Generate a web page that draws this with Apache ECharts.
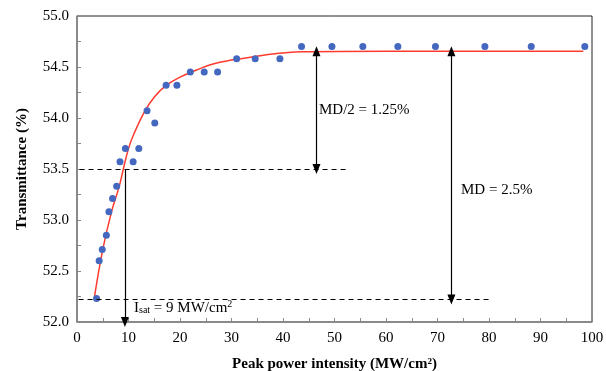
<!DOCTYPE html>
<html><head><meta charset="utf-8">
<script src="https://cdn.jsdelivr.net/npm/echarts@6/dist/echarts.min.js"></script>
<style>html,body{margin:0;padding:0;background:#fff}#c{width:606px;height:371px}</style>
</head><body><div id="c"></div>
<script>
// Measured data points (x: MW/cm², y: transmittance %)
const pointX = [3.8, 4.3, 4.9, 5.7, 6.2, 6.9, 7.7, 8.35, 9.4, 10.9, 12.0, 13.6, 15.1, 17.3, 19.4, 22.0, 24.7, 27.3, 31.0, 34.6, 39.4, 43.6, 49.5, 55.5, 62.3, 69.6, 79.2, 88.2, 98.6];
const pointY = [52.23, 52.60, 52.71, 52.85, 53.08, 53.21, 53.33, 53.57, 53.70, 53.57, 53.70, 54.07, 53.95, 54.32, 54.32, 54.45, 54.45, 54.45, 54.58, 54.58, 54.58, 54.70, 54.70, 54.70, 54.70, 54.70, 54.70, 54.70, 54.70];
// Fit curve
const fitX = [3.4, 5.0, 6.7, 8.2, 9.0, 10.0, 11.1, 13.2, 15.1, 17.3, 20.0, 23.2, 26.4, 30.3, 34.2, 38.4, 43.5, 60, 80, 98.3];
const fitY = [52.25, 52.71, 53.08, 53.33, 53.50, 53.70, 53.85, 54.07, 54.21, 54.32, 54.40, 54.47, 54.53, 54.57, 54.60, 54.63, 54.65, 54.655, 54.655, 54.655];
// Annotation values
const halfLevel = 53.5, halfLineEnd = 52.6;
const baseLevel = 52.22, baseLineEnd = 80;
const satLevel = 54.655;
const isatX = 9.3;
const mdHalfX = 46.5, mdX = 72.7;
const xTicks = [0, 10, 20, 30, 40, 50, 60, 70, 80, 90, 100];
const yTicks = ['52.0', '52.5', '53.0', '53.5', '54.0', '54.5', '55.0'];

const font = 'Liberation Serif';
const chart = echarts.init(document.getElementById('c'), null, {renderer: 'canvas'});
const dashStyle = {color: '#000', width: 1, type: [5, 4]};
const arrowStyle = {color: '#000', width: 1.2, type: 'solid'};
chart.setOption({
  animation: false,
  grid: {left: 77, right: 14, top: 16, bottom: 49, show: true, borderColor: '#222', borderWidth: 1,
         containLabel: false, outerBoundsMode: 'none'},
  xAxis: {
    type: 'value', min: 0, max: 100, interval: 5,
    name: 'Peak power intensity (MW/cm²)', nameLocation: 'middle', nameGap: 35,
    nameTextStyle: {fontFamily: font, fontWeight: 'bold', fontSize: 15, color: '#000'},
    axisLine: {show: true, lineStyle: {color: '#888', width: 1.5}},
    axisTick: {show: true, inside: true, length: 4, lineStyle: {color: '#888'}},
    axisLabel: {fontFamily: font, fontSize: 15, color: '#000', margin: 9,
      formatter: v => (xTicks.indexOf(v) >= 0 ? String(v) : '')},
    splitLine: {show: false}
  },
  yAxis: {
    type: 'value', min: 52, max: 55, interval: 0.25,
    name: 'Transmittance (%)', nameLocation: 'middle', nameGap: 47,
    nameTextStyle: {fontFamily: font, fontWeight: 'bold', fontSize: 15, color: '#000'},
    axisLine: {show: true, lineStyle: {color: '#888', width: 1.5}},
    axisTick: {show: true, inside: true, length: 4, lineStyle: {color: '#888'}},
    axisLabel: {fontFamily: font, fontSize: 15, color: '#000', margin: 8,
      formatter: v => { const s = v.toFixed(1); return (Math.abs(v * 2 - Math.round(v * 2)) < 1e-6 && yTicks.indexOf(s) >= 0) ? s : ''; }},
    splitLine: {show: false}
  },
  series: [
    {
      type: 'line', data: fitX.map((x, i) => [x, fitY[i]]), smooth: 0.4, symbol: 'none',
      lineStyle: {color: '#ff3b2f', width: 1.5}, z: 2,
      markLine: {
        silent: true, symbol: ['none', 'none'], label: {show: false},
        data: [
          [{coord: [0.5, halfLevel], lineStyle: dashStyle}, {coord: [halfLineEnd, halfLevel]}],
          [{coord: [0.3, baseLevel], lineStyle: dashStyle}, {coord: [baseLineEnd, baseLevel]}],
          [{coord: [isatX, halfLevel], lineStyle: arrowStyle, symbol: 'none'}, {coord: [isatX, 52.0], symbol: 'triangle', symbolSize: [8, 10]}],
          [{coord: [mdHalfX, satLevel], lineStyle: arrowStyle, symbol: 'triangle', symbolSize: [8, 10]}, {coord: [mdHalfX, halfLevel], symbol: 'triangle', symbolSize: [8, 10]}],
          [{coord: [mdX, satLevel], lineStyle: arrowStyle, symbol: 'triangle', symbolSize: [8, 10]}, {coord: [mdX, baseLevel], symbol: 'triangle', symbolSize: [8, 10]}]
        ]
      }
    },
    {
      type: 'scatter', data: pointX.map((x, i) => [x, pointY[i]]), symbolSize: 7,
      itemStyle: {color: '#4468c0', opacity: 1}, z: 3
    }
  ],
  graphic: [
    {type: 'text', left: 319, top: 103, style: {text: 'MD/2 = 1.25%', fontFamily: font, fontSize: 15, fill: '#000'}},
    {type: 'text', left: 461, top: 183, style: {text: 'MD = 2.5%', fontFamily: font, fontSize: 15, fill: '#000'}},
    {type: 'text', left: 134, top: 299, style: {
      text: '{a|I}{b|sat}{a| = 9 MW/cm}{c|2}', fontFamily: font, fontSize: 15, fill: '#000',
      rich: {
        a: {fontFamily: font, fontSize: 15, lineHeight: 18, fill: '#000'},
        b: {fontFamily: font, fontSize: 10, lineHeight: 18, padding: [5, 0, 0, 0], fill: '#000'},
        c: {fontFamily: font, fontSize: 10, lineHeight: 18, padding: [0, 0, 8, 0], fill: '#000'}
      }
    }}
  ]
});
</script></body></html>
